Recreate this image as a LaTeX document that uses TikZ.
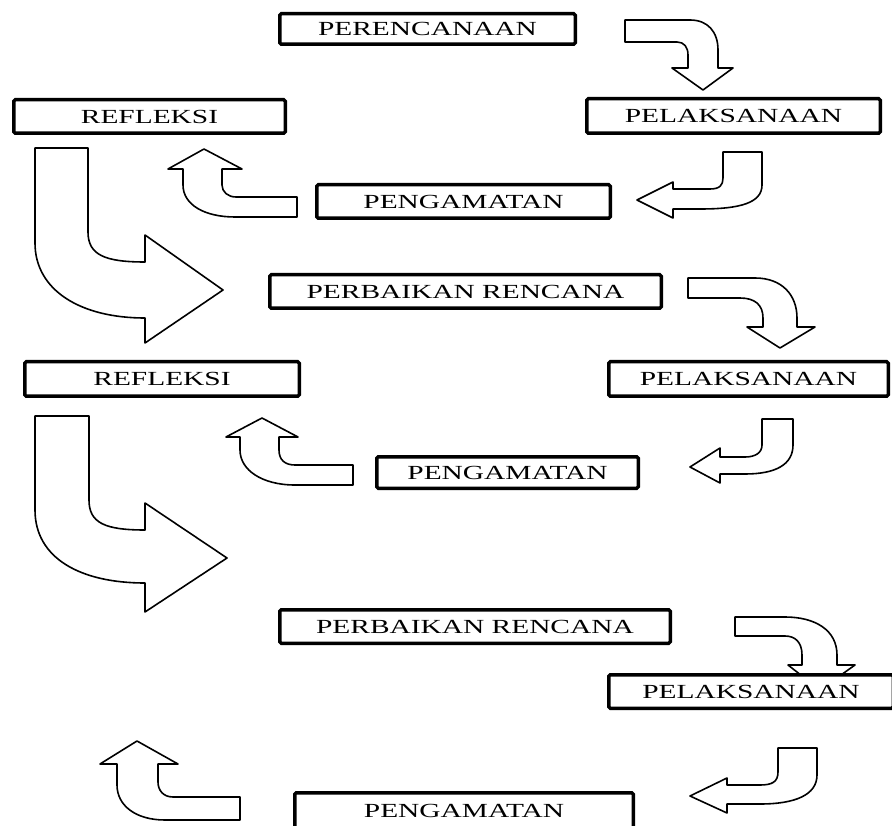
\documentclass[tikz,border=0pt]{standalone}
\usepackage{fontspec}
\newfontfamily\boxfont{Liberation Serif}[FakeStretch=1.47]
\begin{document}
\begin{tikzpicture}[x=1pt,y=-1pt,
  box/.style={draw, line width=3.5pt, fill=white, rounded corners=1.5pt, inner sep=0pt,
              font=\boxfont\fontsize{20}{20}\selectfont},
  barrow/.style={draw, line width=1.6pt, fill=white, line join=round}]
\useasboundingbox (0,0) rectangle (892,826);
\clip (0,0) rectangle (892,826);

% ---------- block arrows ----------
% A1: PERENCANAAN -> PELAKSANAAN
\draw[barrow] (625,20) -- (690,20) .. controls (708,20) and (718,32) .. (718,50) -- (718,68)
  -- (733,68) -- (703,90) -- (672,68) -- (688,68) -- (688,55)
  .. controls (688,47) and (684,42) .. (677,42) -- (625,42) -- cycle;
% B1: PELAKSANAAN -> PENGAMATAN
\draw[barrow] (723,152) -- (762,152) -- (762,185) .. controls (762,203) and (740,209) .. (700,209)
  -- (673,209) -- (673,218) -- (637,200) -- (673,182) -- (673,189) -- (710,189)
  .. controls (720,189) and (723,185) .. (723,178) -- cycle;
% C1: PENGAMATAN -> REFLEKSI
\draw[barrow] (297,197) -- (297,217) -- (235,217) .. controls (205,217) and (183,205) .. (183,185)
  -- (183,169) -- (168,169) -- (204,149) -- (242,169) -- (222,169) -- (222,185)
  .. controls (222,192) and (228,197) .. (236,197) -- cycle;
% D1: REFLEKSI -> PERBAIKAN RENCANA
\draw[barrow] (35,148) -- (88,148) -- (88,232) .. controls (88,255) and (105,262) .. (145,262)
  -- (145,235) -- (223,290) -- (145,343) -- (145,318)
  .. controls (80,318) and (35,290) .. (35,243) -- cycle;
% A2
\draw[barrow] (688,278) -- (755,278) .. controls (782,278) and (797,295) .. (797,318) -- (797,327)
  -- (815,327) -- (780,348) -- (747,327) -- (763,327) -- (763,318)
  .. controls (763,305) and (755,298) .. (740,298) -- (688,298) -- cycle;
% B2
\draw[barrow] (762,419) -- (793,419) -- (793,445) .. controls (793,465) and (775,474) .. (745,474)
  -- (720,474) -- (720,483) -- (690,467) -- (720,448) -- (720,457) -- (745,457)
  .. controls (755,457) and (762,453) .. (762,445) -- cycle;
% C2
\draw[barrow] (353,465) -- (353,485) -- (295,485) .. controls (262,485) and (240,470) .. (240,450)
  -- (240,437) -- (226,437) -- (262,418) -- (298,437) -- (279,437) -- (279,450)
  .. controls (279,460) and (285,465) .. (295,465) -- cycle;
% D2
\draw[barrow] (35,416) -- (89,416) -- (89,500) .. controls (89,523) and (105,530) .. (145,530)
  -- (145,503) -- (227,558) -- (145,612) -- (145,583)
  .. controls (80,583) and (35,558) .. (35,510) -- cycle;
% A3
\draw[barrow] (735,617) -- (785,617) .. controls (815,617) and (837,630) .. (837,655) -- (837,665)
  -- (855,665) -- (820,690) -- (788,665) -- (802,665) -- (802,655)
  .. controls (802,642) and (795,636) .. (785,636) -- (735,636) -- cycle;
% B3
\draw[barrow] (778,748) -- (817,748) -- (817,775) .. controls (817,795) and (795,804) .. (760,804)
  -- (727,804) -- (727,813) -- (690,796) -- (727,778) -- (727,785) -- (760,785)
  .. controls (772,785) and (778,782) .. (778,772) -- cycle;
% C3
\draw[barrow] (240,797) -- (240,820) -- (165,820) .. controls (135,820) and (117,805) .. (117,785)
  -- (117,764) -- (100,764) -- (137,741) -- (178,764) -- (158,764) -- (158,782)
  .. controls (158,790) and (163,797) .. (173,797) -- cycle;

% ---------- boxes ----------
\node[box, minimum width=295.5pt, minimum height=30.5pt] (per)  at (427.5,29)   {PERENCANAAN};
\node[box, minimum width=293.5pt, minimum height=34.5pt] (pel1) at (733.5,116)  {PELAKSANAAN};
\node[box, minimum width=271.5pt, minimum height=33.5pt] (ref1) at (149.5,116.5){REFLEKSI};
\node[box, minimum width=293.5pt, minimum height=33.5pt] (pen1) at (463.5,201.5){PENGAMATAN};
\node[box, minimum width=391.5pt, minimum height=33.5pt] (pr1)  at (465.5,291.5){PERBAIKAN RENCANA};
\node[box, minimum width=274.5pt, minimum height=34.5pt] (ref2) at (162,379)    {REFLEKSI};
\node[box, minimum width=279.5pt, minimum height=34.5pt] (pel2) at (748.5,379)  {PELAKSANAAN};
\node[box, minimum width=261.5pt, minimum height=31.5pt] (pen2) at (507.5,472.5){PENGAMATAN};
\node[box, minimum width=390.5pt, minimum height=33.5pt] (pr2)  at (475,626.5)  {PERBAIKAN RENCANA};
\node[box, minimum width=284.5pt, minimum height=33.5pt] (pel3) at (751,691.5)  {PELAKSANAAN};
\node[box, minimum width=338.5pt, minimum height=36.5pt] (pen3) at (464,811)    {PENGAMATAN};
\end{tikzpicture}
\end{document}
